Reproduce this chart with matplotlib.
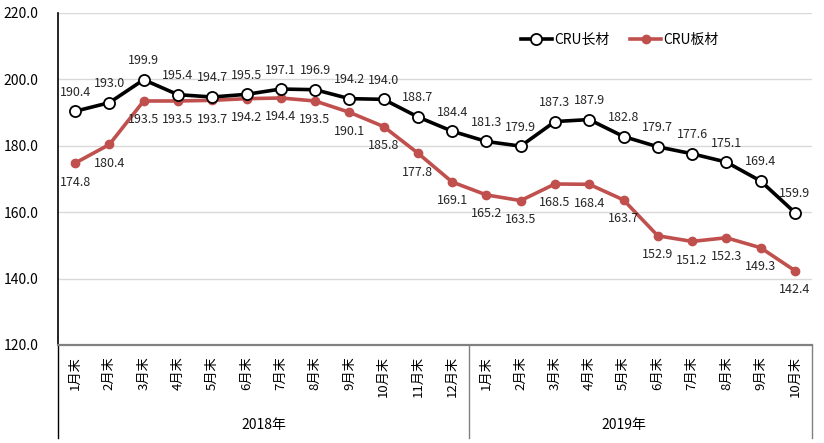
import matplotlib
matplotlib.use("Agg")
import matplotlib.pyplot as plt
from matplotlib.lines import Line2D
import matplotlib.transforms as mtransforms

plt.rcParams['font.family'] = ['Noto Sans CJK SC', 'DejaVu Sans']

months_2018 = ["1月末", "2月末", "3月末", "4月末", "5月末", "6月末", "7月末", "8月末", "9月末", "10月末", "11月末", "12月末"]
months_2019 = ["1月末", "2月末", "3月末", "4月末", "5月末", "6月末", "7月末", "8月末", "9月末", "10月末"]
categories = months_2018 + months_2019
years = ["2018年", "2019年"]

long_steel = [190.4, 193.0, 199.9, 195.4, 194.7, 195.5, 197.1, 196.9, 194.2, 194.0, 188.7, 184.4,
              181.3, 179.9, 187.3, 187.9, 182.8, 179.7, 177.6, 175.1, 169.4, 159.9]
flat_steel = [174.8, 180.4, 193.5, 193.5, 193.7, 194.2, 194.4, 193.5, 190.1, 185.8, 177.8, 169.1,
              165.2, 163.5, 168.5, 168.4, 163.7, 152.9, 151.2, 152.3, 149.3, 142.4]
series_names = ["CRU长材", "CRU板材"]

red = "#c0504d"
fig = plt.figure(figsize=(8.24, 4.43), dpi=100)
ax = fig.add_axes([58/824, 1-345/443, (812-58)/824, (345-13)/443])

x = list(range(len(categories)))
ax.plot(x, long_steel, color="black", lw=2.6, marker="o", ms=8, mfc="white", mec="black", mew=1.3,
        label=series_names[0], zorder=4)
ax.plot(x, flat_steel, color=red, lw=2.6, marker="o", ms=6, mfc=red, mec=red,
        label=series_names[1], zorder=3)

for xi, v in zip(x, long_steel):
    ax.annotate(f"{v:.1f}", (xi, v), xytext=(0, 9), textcoords="offset points",
                ha="center", va="bottom", fontsize=9, color="#262626")
for xi, v in zip(x, flat_steel):
    ax.annotate(f"{v:.1f}", (xi, v), xytext=(0, -9), textcoords="offset points",
                ha="center", va="top", fontsize=9, color="#262626")

ax.set_ylim(120, 220)
ax.set_yticks([120, 140, 160, 180, 200, 220])
ax.set_yticklabels([f"{t:.1f}" for t in [120, 140, 160, 180, 200, 220]], fontsize=10)
ax.set_xlim(-0.5, len(categories) - 0.5)
ax.set_xticks(x)
ax.set_xticklabels(categories, rotation=90, fontsize=9.5)
ax.tick_params(axis="both", length=0)
ax.tick_params(axis="x", pad=8)
ax.tick_params(axis="y", pad=14)

ax.grid(axis="y", color="#d9d9d9", lw=1)
ax.set_axisbelow(True)
for s in ["top", "right"]:
    ax.spines[s].set_visible(False)
ax.spines["left"].set_color("black")
ax.spines["left"].set_linewidth(1.2)
ax.spines["bottom"].set_color("#808080")
ax.spines["bottom"].set_linewidth(1.6)

trans = mtransforms.blended_transform_factory(ax.transData, ax.transAxes)
bottom = -(438 - 345) / 332
for xv in [-0.5, 11.5, 21.5]:
    ax.add_line(Line2D([xv, xv], [0, bottom], transform=trans, color="#808080" if xv != -0.5 else "black",
                       lw=1, clip_on=False))
ax.text(5.5, -(425 - 345) / 332, years[0], transform=trans, ha="center", va="center", fontsize=10)
ax.text(16, -(425 - 345) / 332, years[1], transform=trans, ha="center", va="center", fontsize=10)

leg = ax.legend(loc="center", bbox_to_anchor=(620/824, 1-40/443), bbox_transform=fig.transFigure,
                ncol=2, frameon=False, fontsize=10, handlelength=2.2, columnspacing=1.5, handletextpad=0.2)

fig.savefig("out.png", dpi=100)
